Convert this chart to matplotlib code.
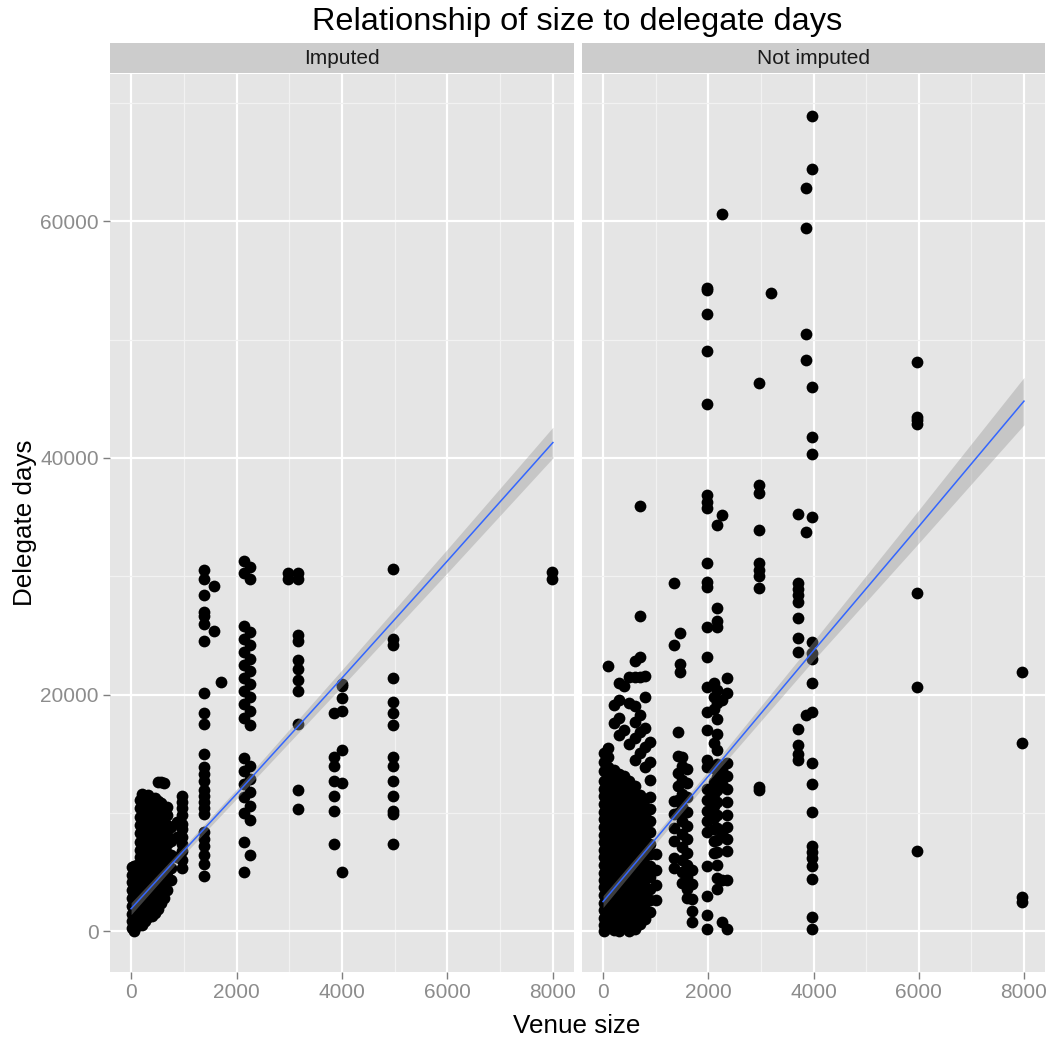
import matplotlib
matplotlib.use("Agg")
import matplotlib.pyplot as plt
from matplotlib.ticker import MultipleLocator

plt.rcParams['font.family'] = ['Liberation Sans', 'DejaVu Sans']

imputed_cols = [
    (10, [250, 900, 1450, 2150, 2800, 3450, 4150, 4750, 5450]),
    (60, [0, 650, 1250, 1850, 2550, 3150, 3850, 4450, 5150, 5550]),
    (110, [400, 1050, 1700, 2350, 3000, 3650, 4400, 5000, 5600]),
    (160, [700, 1350, 2100, 2750, 3400, 4050, 4800, 5450, 6250, 6900, 7550, 8300, 9000, 9650, 10450, 11100]),
    (210, [500, 1150, 1800, 2450, 3250, 3900, 4600, 5300, 5950, 6700, 7350, 8100, 8800, 9450, 10250, 10900, 11600]),
    (270, [900, 1600, 2250, 3000, 3700, 4350, 5100, 5800, 6450, 7200, 7900, 8550, 9300, 10000, 10700, 11450]),
    (330, [1200, 1850, 2600, 3300, 3950, 4700, 5400, 6050, 6800, 7500, 8150, 8900, 9600, 10250, 11000, 11500]),
    (390, [1300, 2050, 2700, 3400, 4150, 4800, 5500, 6250, 6900, 7600, 8350, 9000, 9700, 10400, 11150]),
    (450, [1550, 2200, 2900, 3650, 4300, 5000, 5750, 6400, 7100, 7850, 8500, 9200, 9950, 10600, 11250]),
    (510, [1900, 2600, 3300, 4050, 4700, 5400, 6150, 6800, 7500, 8250, 8900, 9600, 10350, 11000, 12600]),
    (570, [2400, 3100, 3850, 4500, 5200, 5950, 6600, 7300, 8050, 8700, 9400, 10150, 10800, 12650]),
    (630, [2800, 3550, 4200, 4900, 5650, 6300, 7000, 7750, 8400, 9100, 9850, 10500, 12500]),
    (690, [3450, 4200, 5000, 5750, 6600, 7400, 8150, 9000, 9800, 10500]),
    (750, [4300, 5300, 6400, 7600, 8800]),
    (880, [9200, 8000, 6300]),
    (960, [11400, 10900, 10400, 9800, 9100, 8600, 8000, 7400, 6800, 6000, 5300]),
    (1380, [30500, 29800, 28400, 27000, 26600, 26000, 24500, 20100, 18400, 17500, 15000, 13900,
            13300, 12700, 11900, 11400, 10900, 10400, 9900, 8400, 7800, 7200, 6400, 5700, 4700]),
    (1570, [29200, 25400]),
    (1700, [21100]),
    (2150, [31300, 30300, 25800, 24700, 23600, 22500, 21400, 20300, 19200, 18000, 14600, 13500,
            12400, 11300, 10000, 7500, 5000]),
    (2250, [30800, 29800, 25300, 24200, 23000, 22000, 20900, 19800, 18600, 17400, 14000, 12900,
            11800, 10600, 9400, 6400]),
    (2980, [30300, 29800]),
    (3170, [30300, 29800, 25000, 24500, 22900, 22200, 21200, 20300, 17500, 11900, 10300]),
    (3850, [18400, 14700, 14000, 12700, 11400, 10200, 7400]),
    (4000, [20900, 20700, 19700, 18600, 15300, 12500, 5000]),
    (4960, [30600, 24700, 24200, 21400, 19400, 18400, 17400, 14700, 14000, 12700, 11400, 10200, 9900, 7400]),
    (7980, [30400, 29800]),
]

not_imputed_cols = [
    (10, [0, 550, 1100, 1750, 2400, 3050, 3700, 4300, 4950, 5600, 6250, 6900, 7500, 8150,
          8800, 9450, 10100, 10750, 11400, 12050, 12700, 13500, 14300, 15100]),
    (100, [300, 900, 1500, 2150, 2800, 3400, 4050, 4650, 5300, 5950, 6600, 7200, 7850, 8500,
           9150, 9800, 10400, 11050, 11700, 12350, 13000, 13850, 14700, 15500, 22400]),
    (200, [100, 700, 1300, 1950, 2600, 3250, 3850, 4500, 5150, 5800, 6400, 7050, 7700, 8300,
           8950, 9600, 10250, 10850, 11500, 12150, 12800, 13600, 17600, 19100]),
    (300, [0, 600, 1200, 1850, 2500, 3100, 3750, 4400, 5000, 5650, 6300, 6900, 7550, 8200,
           8800, 9450, 10100, 10700, 11350, 12000, 12600, 13300, 16600, 18000, 19500, 21000]),
    (400, [400, 1000, 1650, 2300, 2900, 3550, 4200, 4800, 5450, 6100, 6700, 7350, 8000, 8600,
           9250, 9900, 10500, 11150, 11800, 12400, 13100, 17000, 20700]),
    (500, [0, 700, 1300, 1950, 2600, 3200, 3850, 4500, 5100, 5750, 6400, 7000, 7650, 8300,
           8900, 9550, 10200, 10800, 11450, 12100, 12700, 15800, 19300, 21500]),
    (600, [200, 850, 1500, 2100, 2750, 3400, 4000, 4650, 5300, 5900, 6550, 7200, 7800, 8450,
           9100, 9700, 10350, 11000, 11650, 12300, 14500, 16300, 17700, 19000, 21500, 22800]),
    (700, [600, 1250, 1900, 2550, 3200, 3800, 4450, 5100, 5750, 6400, 7000, 7650, 8300, 8950,
           9600, 10200, 10850, 11500, 15100, 16800, 18300, 21500, 23200, 26600, 35900]),
    (800, [1000, 1700, 2350, 3050, 3700, 4400, 5050, 5700, 6400, 7050, 7700, 8400, 9050, 9750,
           10400, 11200, 13900, 15600, 17200, 19800, 21600]),
    (900, [1600, 2600, 3600, 4550, 5500, 6500, 7400, 8400, 9300, 10300, 11300, 12800, 14300, 16000]),
    (1000, [2600, 3900, 5200, 6500]),
    (1350, [29400, 24200, 11000, 9900, 8700, 7600, 6200, 5300]),
    (1420, [16800, 14800, 13400, 12300, 11100, 10000]),
    (1470, [25200, 22600, 21900]),
    (1500, [14700, 14000, 12800, 11600, 10500, 9300, 8200, 7100, 6000, 5000, 4100]),
    (1600, [13700, 12500, 11300, 10100, 8900, 7800, 6600, 5600, 4600, 3600, 2800]),
    (1700, [5200, 4000, 2700, 1700, 800]),
    (1970, [54400, 54200, 52200, 49000, 44600, 36900, 36300, 35800, 31100, 29500, 29100, 25700,
            23200, 20600, 18500, 17000, 14500, 13900, 12000, 11100, 10200, 9300, 8400, 5500,
            3000, 1400, 200]),
    (2100, [21000, 19800, 18800, 15900, 13800, 12600, 11600, 10600, 9600, 8600, 7600, 6600]),
    (2170, [34300, 27300, 26200, 25700, 20400, 19300, 17900, 16700, 15300, 14100, 13000, 11900,
            10900, 9800, 8700, 7700, 6700, 5600, 4500, 3600]),
    (2270, [60600, 35200, 19500, 13600, 12400, 8200, 4300, 800]),
    (2360, [21400, 20100, 14200, 13100, 12000, 10900, 9800, 8800, 7800, 6800, 4300, 200]),
    (2970, [46300, 37700, 37000, 33900, 31100, 30500, 30000, 29000, 12200, 11900]),
    (3200, [53900]),
    (3710, [35300, 29400, 28900, 28400, 27800, 26500, 24800, 23600, 17100, 15700, 15000, 14500]),
    (3860, [62800, 59400, 50500, 48300, 33700, 18300]),
    (3970, [68900, 64400, 46000, 41800, 40300, 35000, 24400, 23500, 23000, 21000, 18500, 14200,
            12400, 10100, 7200, 6700, 6200, 5500, 4400, 1200, 200]),
    (5970, [48100, 43500, 43200, 42900, 28600, 20600, 6800]),
    (7970, [21900, 15900, 2900, 2500]),
]

# linear fit and its confidence band, read at a few venue sizes
fit_x = [0, 1000, 2000, 4000, 6000, 8000]
imp_fit = [1900, 6800, 11600, 21400, 31300, 41300]
imp_half = [500, 350, 400, 700, 1000, 1300]
notimp_fit = [2500, 7800, 13100, 23700, 34200, 44800]
notimp_half = [500, 400, 450, 800, 1400, 2000]

facets = ['Imputed', 'Not imputed']

W, H = 1049, 1041
fig = plt.figure(figsize=(W / 100, H / 100), dpi=100)


def box(x0, y0, x1, y1):
    return [x0 / W, 1 - y1 / H, (x1 - x0) / W, (y1 - y0) / H]


panel_px = [(110, 574), (582, 1045)]
data = [(imputed_cols, imp_fit, imp_half), (not_imputed_cols, notimp_fit, notimp_half)]

for i, ((x0, x1), (cols, fit, half)) in enumerate(zip(panel_px, data)):
    ax = fig.add_axes(box(x0, 74, x1, 972))
    ax.set_facecolor('#E5E5E5')
    for s in ax.spines.values():
        s.set_visible(False)
    ax.set_xlim(-400, 8400)
    ax.set_ylim(-3450, 72450)
    ax.xaxis.set_major_locator(MultipleLocator(2000))
    ax.xaxis.set_minor_locator(MultipleLocator(1000))
    ax.yaxis.set_major_locator(MultipleLocator(20000))
    ax.yaxis.set_minor_locator(MultipleLocator(10000))
    ax.grid(which='minor', color='#F2F2F2', lw=0.9)
    ax.grid(which='major', color='white', lw=1.6)
    ax.set_axisbelow(True)
    ax.tick_params(which='minor', length=0)
    ax.tick_params(which='major', length=5, width=1, color='#7F7F7F',
                   labelcolor='#8C8C8C', labelsize=15, pad=3)
    if i == 1:
        ax.tick_params(axis='y', left=False, labelleft=False)

    xs = [size for size, days in cols for _ in days]
    ys = [d for size, days in cols for d in days]
    ax.scatter(xs, ys, s=72, c='black', linewidths=0, zorder=3)

    lo = [f - h for f, h in zip(fit, half)]
    hi = [f + h for f, h in zip(fit, half)]
    ax.fill_between(fit_x, lo, hi, color='#999999', alpha=0.4, lw=0, zorder=4)
    ax.plot(fit_x, fit, color='#3366FF', lw=1.1, zorder=5)

    strip = fig.add_axes(box(x0, 43, x1, 73))
    strip.set_facecolor('#CCCCCC')
    strip.set_xticks([])
    strip.set_yticks([])
    for s in strip.spines.values():
        s.set_visible(False)
    strip.text(0.5, 0.5, facets[i], ha='center', va='center', fontsize=15, color='#1A1A1A',
               transform=strip.transAxes)

fig.text(577 / W, 1 - 22 / H, 'Relationship of size to delegate days', ha='center', va='center',
         fontsize=23.4, color='black')
fig.text(577 / W, 1 - 1026 / H, 'Venue size', ha='center', va='center', fontsize=18.7)
fig.text(25 / W, 1 - 523 / H, 'Delegate days', ha='center', va='center', rotation=90, fontsize=18.7)

fig.savefig('out.png', dpi=100, facecolor='white')
